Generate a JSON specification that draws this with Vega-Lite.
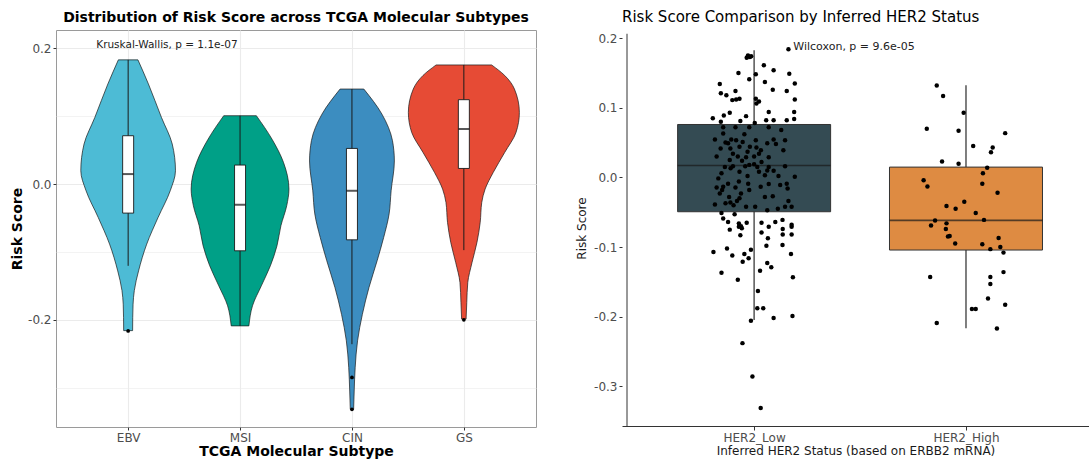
{
  "$schema": "https://vega.github.io/schema/vega-lite/v6.json",
  "background": "white",
  "padding": {"left": 10, "top": 10, "right": 0, "bottom": 0},
  "spacing": 38,
  "resolve": {"scale": {"color": "independent"}},
  "config": {"font": "DejaVu Sans", "view": {"stroke": null}},
  "datasets": {
    "violin": [
      {"subtype": "EBV", "y": 0.183, "w": 0.0875},
      {"subtype": "EBV", "y": 0.1475, "w": 0.181},
      {"subtype": "EBV", "y": 0.098, "w": 0.298},
      {"subtype": "EBV", "y": 0.059, "w": 0.394},
      {"subtype": "EBV", "y": 0.0196, "w": 0.423},
      {"subtype": "EBV", "y": -0.0099, "w": 0.376},
      {"subtype": "EBV", "y": -0.049, "w": 0.268},
      {"subtype": "EBV", "y": -0.0885, "w": 0.166},
      {"subtype": "EBV", "y": -0.128, "w": 0.093},
      {"subtype": "EBV", "y": -0.157, "w": 0.055},
      {"subtype": "EBV", "y": -0.177, "w": 0.044},
      {"subtype": "EBV", "y": -0.197, "w": 0.041},
      {"subtype": "EBV", "y": -0.216, "w": 0.04},
      {"subtype": "MSI", "y": 0.1007, "w": 0.146},
      {"subtype": "MSI", "y": 0.066, "w": 0.286},
      {"subtype": "MSI", "y": 0.032, "w": 0.388},
      {"subtype": "MSI", "y": -0.0074, "w": 0.437},
      {"subtype": "MSI", "y": -0.032, "w": 0.417},
      {"subtype": "MSI", "y": -0.0615, "w": 0.365},
      {"subtype": "MSI", "y": -0.091, "w": 0.33},
      {"subtype": "MSI", "y": -0.1205, "w": 0.271},
      {"subtype": "MSI", "y": -0.15, "w": 0.19},
      {"subtype": "MSI", "y": -0.1795, "w": 0.111},
      {"subtype": "MSI", "y": -0.209, "w": 0.079},
      {"subtype": "CIN", "y": 0.14, "w": 0.106},
      {"subtype": "CIN", "y": 0.103, "w": 0.268},
      {"subtype": "CIN", "y": 0.064, "w": 0.362},
      {"subtype": "CIN", "y": 0.034, "w": 0.379},
      {"subtype": "CIN", "y": -0.0099, "w": 0.35},
      {"subtype": "CIN", "y": -0.044, "w": 0.332},
      {"subtype": "CIN", "y": -0.079, "w": 0.283},
      {"subtype": "CIN", "y": -0.113, "w": 0.225},
      {"subtype": "CIN", "y": -0.1525, "w": 0.152},
      {"subtype": "CIN", "y": -0.192, "w": 0.093},
      {"subtype": "CIN", "y": -0.231, "w": 0.05},
      {"subtype": "CIN", "y": -0.27, "w": 0.029},
      {"subtype": "CIN", "y": -0.305, "w": 0.02},
      {"subtype": "CIN", "y": -0.332, "w": 0.015},
      {"subtype": "GS", "y": 0.1755, "w": 0.248},
      {"subtype": "GS", "y": 0.16, "w": 0.365},
      {"subtype": "GS", "y": 0.14, "w": 0.452},
      {"subtype": "GS", "y": 0.1056, "w": 0.496},
      {"subtype": "GS", "y": 0.076, "w": 0.466},
      {"subtype": "GS", "y": 0.0466, "w": 0.365},
      {"subtype": "GS", "y": 0.017, "w": 0.262},
      {"subtype": "GS", "y": -0.0074, "w": 0.19},
      {"subtype": "GS", "y": -0.027, "w": 0.16},
      {"subtype": "GS", "y": -0.0566, "w": 0.146},
      {"subtype": "GS", "y": -0.086, "w": 0.117},
      {"subtype": "GS", "y": -0.1156, "w": 0.073},
      {"subtype": "GS", "y": -0.145, "w": 0.035},
      {"subtype": "GS", "y": -0.1746, "w": 0.026},
      {"subtype": "GS", "y": -0.199, "w": 0.02}
    ],
    "subtypeBox": [
      {"subtype": "EBV", "q1": -0.0428, "med": 0.0147, "q3": 0.0712, "lo": -0.1205, "hi": 0.183},
      {"subtype": "MSI", "q1": -0.0984, "med": -0.0305, "q3": 0.028, "lo": -0.209, "hi": 0.1007},
      {"subtype": "CIN", "q1": -0.0822, "med": -0.0099, "q3": 0.0525, "lo": -0.236, "hi": 0.14},
      {"subtype": "GS", "q1": 0.023, "med": 0.0811, "q3": 0.1243, "lo": -0.0974, "hi": 0.1755}
    ],
    "subtypeOutliers": [
      {"subtype": "EBV", "score": -0.2165},
      {"subtype": "CIN", "score": -0.285},
      {"subtype": "CIN", "score": -0.332},
      {"subtype": "GS", "score": -0.2}
    ],
    "her2Box": [
      {"status": "HER2_Low", "q1": -0.0493, "med": 0.0172, "q3": 0.076, "lo": -0.2047, "hi": 0.1826},
      {"status": "HER2_High", "q1": -0.1043, "med": -0.0617, "q3": 0.0148, "lo": -0.2167, "hi": 0.1324}
    ],
    "her2Points": [
      {"status": "HER2_Low", "jit": -0.035, "score": 0.172},
      {"status": "HER2_Low", "jit": -0.029, "score": 0.175},
      {"status": "HER2_Low", "jit": -0.02, "score": 0.173},
      {"status": "HER2_Low", "jit": -0.014, "score": 0.174},
      {"status": "HER2_Low", "jit": 0.162, "score": 0.184},
      {"status": "HER2_Low", "jit": 0.046, "score": 0.161},
      {"status": "HER2_Low", "jit": 0.092, "score": 0.154},
      {"status": "HER2_Low", "jit": -0.074, "score": 0.15},
      {"status": "HER2_Low", "jit": 0.008, "score": 0.148},
      {"status": "HER2_Low", "jit": 0.166, "score": 0.149},
      {"status": "HER2_Low", "jit": -0.023, "score": 0.141},
      {"status": "HER2_Low", "jit": 0.051, "score": 0.137},
      {"status": "HER2_Low", "jit": -0.162, "score": 0.134},
      {"status": "HER2_Low", "jit": 0.192, "score": 0.135},
      {"status": "HER2_Low", "jit": 0.088, "score": 0.126},
      {"status": "HER2_Low", "jit": 0.154, "score": 0.124},
      {"status": "HER2_Low", "jit": -0.088, "score": 0.124},
      {"status": "HER2_Low", "jit": -0.157, "score": 0.121},
      {"status": "HER2_Low", "jit": -0.131, "score": 0.118},
      {"status": "HER2_Low", "jit": -0.069, "score": 0.113},
      {"status": "HER2_Low", "jit": -0.103, "score": 0.111},
      {"status": "HER2_Low", "jit": -0.085, "score": 0.112},
      {"status": "HER2_Low", "jit": 0.008, "score": 0.113},
      {"status": "HER2_Low", "jit": 0.192, "score": 0.112},
      {"status": "HER2_Low", "jit": 0.023, "score": 0.109},
      {"status": "HER2_Low", "jit": 0.011, "score": 0.106},
      {"status": "HER2_Low", "jit": 0.189, "score": 0.094},
      {"status": "HER2_Low", "jit": 0.069, "score": 0.094},
      {"status": "HER2_Low", "jit": -0.115, "score": 0.093},
      {"status": "HER2_Low", "jit": -0.143, "score": 0.089},
      {"status": "HER2_Low", "jit": -0.038, "score": 0.088},
      {"status": "HER2_Low", "jit": -0.195, "score": 0.085},
      {"status": "HER2_Low", "jit": -0.157, "score": 0.08},
      {"status": "HER2_Low", "jit": -0.065, "score": 0.081},
      {"status": "HER2_Low", "jit": 0.003, "score": 0.078},
      {"status": "HER2_Low", "jit": 0.057, "score": 0.082},
      {"status": "HER2_Low", "jit": 0.092, "score": 0.082},
      {"status": "HER2_Low", "jit": 0.154, "score": 0.082},
      {"status": "HER2_Low", "jit": 0.189, "score": 0.084},
      {"status": "HER2_Low", "jit": -0.146, "score": 0.072},
      {"status": "HER2_Low", "jit": -0.088, "score": 0.072},
      {"status": "HER2_Low", "jit": -0.023, "score": 0.072},
      {"status": "HER2_Low", "jit": 0.069, "score": 0.072},
      {"status": "HER2_Low", "jit": 0.128, "score": 0.068},
      {"status": "HER2_Low", "jit": -0.146, "score": 0.063},
      {"status": "HER2_Low", "jit": -0.046, "score": 0.062},
      {"status": "HER2_Low", "jit": -0.185, "score": 0.0545},
      {"status": "HER2_Low", "jit": -0.108, "score": 0.0545},
      {"status": "HER2_Low", "jit": -0.085, "score": 0.0535},
      {"status": "HER2_Low", "jit": 0.008, "score": 0.0535},
      {"status": "HER2_Low", "jit": 0.092, "score": 0.0545},
      {"status": "HER2_Low", "jit": 0.146, "score": 0.0535},
      {"status": "HER2_Low", "jit": -0.135, "score": 0.05},
      {"status": "HER2_Low", "jit": -0.123, "score": 0.049},
      {"status": "HER2_Low", "jit": -0.054, "score": 0.051},
      {"status": "HER2_Low", "jit": 0.062, "score": 0.049},
      {"status": "HER2_Low", "jit": 0.103, "score": 0.048},
      {"status": "HER2_Low", "jit": -0.158, "score": 0.0416},
      {"status": "HER2_Low", "jit": -0.112, "score": 0.0416},
      {"status": "HER2_Low", "jit": -0.069, "score": 0.044},
      {"status": "HER2_Low", "jit": -0.02, "score": 0.044},
      {"status": "HER2_Low", "jit": 0.011, "score": 0.043},
      {"status": "HER2_Low", "jit": 0.032, "score": 0.039},
      {"status": "HER2_Low", "jit": -0.1, "score": 0.034},
      {"status": "HER2_Low", "jit": -0.031, "score": 0.037},
      {"status": "HER2_Low", "jit": 0.023, "score": 0.034},
      {"status": "HER2_Low", "jit": 0.138, "score": 0.039},
      {"status": "HER2_Low", "jit": -0.177, "score": 0.03},
      {"status": "HER2_Low", "jit": -0.077, "score": 0.03},
      {"status": "HER2_Low", "jit": -0.038, "score": 0.029},
      {"status": "HER2_Low", "jit": 0.0, "score": 0.03},
      {"status": "HER2_Low", "jit": 0.069, "score": 0.029},
      {"status": "HER2_Low", "jit": -0.115, "score": 0.025},
      {"status": "HER2_Low", "jit": -0.057, "score": 0.024},
      {"status": "HER2_Low", "jit": 0.035, "score": 0.022},
      {"status": "HER2_Low", "jit": -0.138, "score": 0.015},
      {"status": "HER2_Low", "jit": -0.1, "score": 0.016},
      {"status": "HER2_Low", "jit": -0.042, "score": 0.016},
      {"status": "HER2_Low", "jit": -0.023, "score": 0.018},
      {"status": "HER2_Low", "jit": 0.0, "score": 0.019},
      {"status": "HER2_Low", "jit": 0.015, "score": 0.015},
      {"status": "HER2_Low", "jit": 0.069, "score": 0.015},
      {"status": "HER2_Low", "jit": 0.146, "score": 0.016},
      {"status": "HER2_Low", "jit": -0.111, "score": 0.013},
      {"status": "HER2_Low", "jit": 0.062, "score": 0.01},
      {"status": "HER2_Low", "jit": 0.092, "score": 0.0095},
      {"status": "HER2_Low", "jit": -0.069, "score": 0.008},
      {"status": "HER2_Low", "jit": 0.023, "score": 0.008},
      {"status": "HER2_Low", "jit": -0.154, "score": 0.006},
      {"status": "HER2_Low", "jit": 0.192, "score": 0.001},
      {"status": "HER2_Low", "jit": -0.169, "score": -0.0014},
      {"status": "HER2_Low", "jit": -0.031, "score": 0.002},
      {"status": "HER2_Low", "jit": 0.051, "score": 0.003},
      {"status": "HER2_Low", "jit": 0.115, "score": 0.002},
      {"status": "HER2_Low", "jit": -0.123, "score": -0.009},
      {"status": "HER2_Low", "jit": -0.072, "score": -0.006},
      {"status": "HER2_Low", "jit": -0.028, "score": -0.009},
      {"status": "HER2_Low", "jit": 0.069, "score": -0.0096},
      {"status": "HER2_Low", "jit": 0.154, "score": -0.009},
      {"status": "HER2_Low", "jit": -0.146, "score": -0.0135},
      {"status": "HER2_Low", "jit": -0.177, "score": -0.0144},
      {"status": "HER2_Low", "jit": -0.088, "score": -0.0144},
      {"status": "HER2_Low", "jit": 0.031, "score": -0.0135},
      {"status": "HER2_Low", "jit": 0.123, "score": -0.011},
      {"status": "HER2_Low", "jit": -0.151, "score": -0.018},
      {"status": "HER2_Low", "jit": -0.023, "score": -0.018},
      {"status": "HER2_Low", "jit": 0.158, "score": -0.016},
      {"status": "HER2_Low", "jit": -0.162, "score": -0.023},
      {"status": "HER2_Low", "jit": -0.062, "score": -0.023},
      {"status": "HER2_Low", "jit": 0.088, "score": -0.027},
      {"status": "HER2_Low", "jit": -0.118, "score": -0.028},
      {"status": "HER2_Low", "jit": -0.069, "score": -0.03},
      {"status": "HER2_Low", "jit": 0.051, "score": -0.028},
      {"status": "HER2_Low", "jit": -0.135, "score": -0.037},
      {"status": "HER2_Low", "jit": -0.112, "score": -0.036},
      {"status": "HER2_Low", "jit": -0.081, "score": -0.034},
      {"status": "HER2_Low", "jit": 0.162, "score": -0.034},
      {"status": "HER2_Low", "jit": -0.185, "score": -0.039},
      {"status": "HER2_Low", "jit": -0.097, "score": -0.04},
      {"status": "HER2_Low", "jit": -0.038, "score": -0.042},
      {"status": "HER2_Low", "jit": 0.005, "score": -0.042},
      {"status": "HER2_Low", "jit": 0.062, "score": -0.047},
      {"status": "HER2_Low", "jit": 0.112, "score": -0.045},
      {"status": "HER2_Low", "jit": 0.146, "score": -0.042},
      {"status": "HER2_Low", "jit": 0.177, "score": -0.042},
      {"status": "HER2_Low", "jit": -0.154, "score": -0.051},
      {"status": "HER2_Low", "jit": -0.092, "score": -0.053},
      {"status": "HER2_Low", "jit": -0.146, "score": -0.059},
      {"status": "HER2_Low", "jit": -0.123, "score": -0.064},
      {"status": "HER2_Low", "jit": -0.072, "score": -0.066},
      {"status": "HER2_Low", "jit": -0.035, "score": -0.065},
      {"status": "HER2_Low", "jit": 0.035, "score": -0.065},
      {"status": "HER2_Low", "jit": 0.1, "score": -0.064},
      {"status": "HER2_Low", "jit": 0.134, "score": -0.061},
      {"status": "HER2_Low", "jit": 0.177, "score": -0.068},
      {"status": "HER2_Low", "jit": -0.062, "score": -0.07},
      {"status": "HER2_Low", "jit": 0.069, "score": -0.071},
      {"status": "HER2_Low", "jit": -0.115, "score": -0.075},
      {"status": "HER2_Low", "jit": -0.072, "score": -0.071},
      {"status": "HER2_Low", "jit": -0.058, "score": -0.073},
      {"status": "HER2_Low", "jit": -0.065, "score": -0.083},
      {"status": "HER2_Low", "jit": 0.035, "score": -0.079},
      {"status": "HER2_Low", "jit": 0.065, "score": -0.0875},
      {"status": "HER2_Low", "jit": 0.135, "score": -0.074},
      {"status": "HER2_Low", "jit": 0.135, "score": -0.082},
      {"status": "HER2_Low", "jit": 0.177, "score": -0.071},
      {"status": "HER2_Low", "jit": 0.177, "score": -0.082},
      {"status": "HER2_Low", "jit": 0.134, "score": -0.097},
      {"status": "HER2_Low", "jit": 0.058, "score": -0.098},
      {"status": "HER2_Low", "jit": -0.192, "score": -0.107},
      {"status": "HER2_Low", "jit": -0.128, "score": -0.102},
      {"status": "HER2_Low", "jit": -0.103, "score": -0.112},
      {"status": "HER2_Low", "jit": -0.046, "score": -0.11},
      {"status": "HER2_Low", "jit": -0.026, "score": -0.116},
      {"status": "HER2_Low", "jit": -0.015, "score": -0.104},
      {"status": "HER2_Low", "jit": -0.054, "score": -0.121},
      {"status": "HER2_Low", "jit": 0.062, "score": -0.123},
      {"status": "HER2_Low", "jit": 0.081, "score": -0.129},
      {"status": "HER2_Low", "jit": 0.174, "score": -0.11},
      {"status": "HER2_Low", "jit": -0.154, "score": -0.137},
      {"status": "HER2_Low", "jit": 0.028, "score": -0.134},
      {"status": "HER2_Low", "jit": -0.077, "score": -0.147},
      {"status": "HER2_Low", "jit": 0.183, "score": -0.1435},
      {"status": "HER2_Low", "jit": 0.018, "score": -0.163},
      {"status": "HER2_Low", "jit": 0.015, "score": -0.188},
      {"status": "HER2_Low", "jit": 0.043, "score": -0.188},
      {"status": "HER2_Low", "jit": 0.092, "score": -0.202},
      {"status": "HER2_Low", "jit": 0.181, "score": -0.199},
      {"status": "HER2_Low", "jit": -0.015, "score": -0.206},
      {"status": "HER2_Low", "jit": -0.055, "score": -0.238},
      {"status": "HER2_Low", "jit": -0.008, "score": -0.286},
      {"status": "HER2_Low", "jit": 0.031, "score": -0.331},
      {"status": "HER2_High", "jit": -0.138, "score": 0.132},
      {"status": "HER2_High", "jit": -0.108, "score": 0.117},
      {"status": "HER2_High", "jit": -0.011, "score": 0.093},
      {"status": "HER2_High", "jit": -0.185, "score": 0.07},
      {"status": "HER2_High", "jit": -0.035, "score": 0.067},
      {"status": "HER2_High", "jit": 0.185, "score": 0.0636},
      {"status": "HER2_High", "jit": 0.034, "score": 0.045},
      {"status": "HER2_High", "jit": 0.126, "score": 0.043},
      {"status": "HER2_High", "jit": 0.118, "score": 0.036},
      {"status": "HER2_High", "jit": -0.113, "score": 0.023},
      {"status": "HER2_High", "jit": -0.035, "score": 0.0195},
      {"status": "HER2_High", "jit": 0.1, "score": 0.014},
      {"status": "HER2_High", "jit": 0.08, "score": 0.006},
      {"status": "HER2_High", "jit": -0.2, "score": -0.004},
      {"status": "HER2_High", "jit": -0.182, "score": -0.013},
      {"status": "HER2_High", "jit": 0.077, "score": -0.009},
      {"status": "HER2_High", "jit": 0.149, "score": -0.022},
      {"status": "HER2_High", "jit": -0.008, "score": -0.035},
      {"status": "HER2_High", "jit": -0.092, "score": -0.041},
      {"status": "HER2_High", "jit": -0.049, "score": -0.045},
      {"status": "HER2_High", "jit": 0.046, "score": -0.051},
      {"status": "HER2_High", "jit": -0.146, "score": -0.062},
      {"status": "HER2_High", "jit": 0.085, "score": -0.061},
      {"status": "HER2_High", "jit": -0.165, "score": -0.069},
      {"status": "HER2_High", "jit": -0.092, "score": -0.066},
      {"status": "HER2_High", "jit": -0.095, "score": -0.074},
      {"status": "HER2_High", "jit": -0.077, "score": -0.084},
      {"status": "HER2_High", "jit": -0.085, "score": -0.085},
      {"status": "HER2_High", "jit": -0.051, "score": -0.095},
      {"status": "HER2_High", "jit": 0.077, "score": -0.096},
      {"status": "HER2_High", "jit": 0.115, "score": -0.103},
      {"status": "HER2_High", "jit": 0.154, "score": -0.087},
      {"status": "HER2_High", "jit": 0.162, "score": -0.1},
      {"status": "HER2_High", "jit": 0.177, "score": -0.108},
      {"status": "HER2_High", "jit": -0.169, "score": -0.143},
      {"status": "HER2_High", "jit": 0.115, "score": -0.143},
      {"status": "HER2_High", "jit": 0.177, "score": -0.136},
      {"status": "HER2_High", "jit": 0.115, "score": -0.153},
      {"status": "HER2_High", "jit": 0.104, "score": -0.174},
      {"status": "HER2_High", "jit": 0.185, "score": -0.183},
      {"status": "HER2_High", "jit": 0.028, "score": -0.189},
      {"status": "HER2_High", "jit": 0.046, "score": -0.189},
      {"status": "HER2_High", "jit": -0.138, "score": -0.209},
      {"status": "HER2_High", "jit": 0.146, "score": -0.217}
    ]
  },
  "hconcat": [
    {
      "width": 480,
      "height": 397,
      "title": {"text": "Distribution of Risk Score across TCGA Molecular Subtypes", "fontSize": 14, "fontWeight": "bold", "anchor": "middle", "frame": "group", "offset": 5, "color": "black"},
      "view": {"stroke": "#9a9a9a", "strokeWidth": 1},
      "encoding": {
        "x": {"type": "quantitative", "scale": {"domain": [0.4, 4.6], "nice": false, "zero": false},
          "axis": {"values": [1, 2, 3, 4], "labelExpr": "['EBV','MSI','CIN','GS'][datum.value - 1]", "title": "TCGA Molecular Subtype", "titleFontSize": 14, "titleFontWeight": "bold", "titleColor": "black", "titlePadding": 1, "labelFontSize": 12, "labelColor": "#4D4D4D", "labelPadding": 2, "tickColor": "#333333", "tickSize": 3, "domain": false, "grid": true, "gridColor": "#EBEBEB", "gridWidth": 1.1}}
      },
      "layer": [
        {
          "data": {"name": "violin"},
          "transform": [
            {"calculate": "indexof(['EBV','MSI','CIN','GS'], datum.subtype) + 1", "as": "pos"},
            {"calculate": "datum.pos - datum.w", "as": "xl"},
            {"calculate": "datum.pos + datum.w", "as": "xr"}
          ],
          "mark": {"type": "area", "orient": "horizontal", "interpolate": "monotone", "stroke": "#1a1a1a", "strokeWidth": 0.7},
          "encoding": {
            "x": {"field": "xl", "type": "quantitative"},
            "x2": {"field": "xr"},
            "y": {"field": "y", "type": "quantitative", "scale": {"domain": [-0.358, 0.227], "nice": false, "zero": false},
              "axis": {"values": [-0.3, -0.2, -0.1, 0, 0.1, 0.2], "labelExpr": "round(abs(datum.value*10)) % 2 == 1 ? '' : (datum.value < -0.001 ? '-' + format(-datum.value, '.1f') : format(abs(datum.value), '.1f'))", "title": "Risk Score", "titleFontSize": 14, "titleFontWeight": "bold", "titleColor": "black", "titlePadding": 3, "labelFontSize": 12, "labelColor": "#4D4D4D", "labelPadding": 2, "tickColor": "#333333", "tickSize": 3, "tickOpacity": {"condition": {"test": "round(abs(datum.value*10)) % 2 == 1", "value": 0}, "value": 1}, "domain": false, "grid": true, "gridColor": "#EBEBEB", "gridWidth": {"condition": {"test": "round(abs(datum.value*10)) % 2 == 1", "value": 0.6}, "value": 1.1}}},
            "color": {"field": "subtype", "type": "nominal", "scale": {"domain": ["EBV", "MSI", "CIN", "GS"], "range": ["#4DBBD5", "#00A087", "#3C8DC0", "#E64B35"]}, "legend": null},
            "detail": {"field": "subtype"}
          }
        },
        {
          "data": {"name": "subtypeBox"},
          "transform": [{"calculate": "indexof(['EBV','MSI','CIN','GS'], datum.subtype) + 1", "as": "pos"}],
          "mark": {"type": "rule", "color": "#1a1a1a", "strokeWidth": 1},
          "encoding": {"x": {"field": "pos", "type": "quantitative"}, "y": {"field": "lo", "type": "quantitative"}, "y2": {"field": "hi"}}
        },
        {
          "data": {"name": "subtypeBox"},
          "transform": [{"calculate": "indexof(['EBV','MSI','CIN','GS'], datum.subtype) + 1", "as": "pos"}],
          "mark": {"type": "bar", "size": 11, "fill": "white", "stroke": "#1a1a1a", "strokeWidth": 0.9},
          "encoding": {"x": {"field": "pos", "type": "quantitative"}, "y": {"field": "q1", "type": "quantitative"}, "y2": {"field": "q3"}}
        },
        {
          "data": {"name": "subtypeBox"},
          "transform": [{"calculate": "indexof(['EBV','MSI','CIN','GS'], datum.subtype) + 1", "as": "pos"}],
          "mark": {"type": "tick", "orient": "horizontal", "size": 11, "thickness": 2, "color": "#111111"},
          "encoding": {"x": {"field": "pos", "type": "quantitative"}, "y": {"field": "med", "type": "quantitative"}}
        },
        {
          "data": {"name": "subtypeOutliers"},
          "transform": [{"calculate": "indexof(['EBV','MSI','CIN','GS'], datum.subtype) + 1", "as": "pos"}],
          "mark": {"type": "circle", "size": 14, "color": "black", "opacity": 1},
          "encoding": {"x": {"field": "pos", "type": "quantitative"}, "y": {"field": "score", "type": "quantitative"}}
        },
        {
          "data": {"values": [{}]},
          "mark": {"type": "text", "align": "left", "baseline": "middle", "fontSize": 10.5, "color": "#222222"},
          "encoding": {"x": {"datum": 0.715, "type": "quantitative"}, "y": {"datum": 0.205, "type": "quantitative"}, "text": {"value": "Kruskal-Wallis, p = 1.1e-07"}}
        }
      ]
    },
    {
      "width": 467,
      "height": 396,
      "title": {"text": "Risk Score Comparison by Inferred HER2 Status", "fontSize": 15, "fontWeight": "normal", "anchor": "start", "frame": "group", "offset": 5, "color": "black"},
      "encoding": {
        "x": {"type": "quantitative", "scale": {"domain": [0.4, 2.557], "nice": false, "zero": false},
          "axis": {"values": [1, 2], "labelExpr": "datum.value == 1 ? 'HER2_Low' : 'HER2_High'", "title": "Inferred HER2 Status (based on ERBB2 mRNA)", "titleFontSize": 12, "titleFontWeight": "normal", "titleColor": "#1a1a1a", "titlePadding": 2, "labelFontSize": 12, "labelColor": "#4D4D4D", "labelPadding": 2, "tickColor": "#333333", "tickSize": 4, "domain": true, "domainColor": "#333333", "domainWidth": 1, "grid": false}}
      },
      "layer": [
        {
          "data": {"values": [{}]},
          "mark": {"type": "rule", "color": "#333333", "strokeWidth": 1},
          "encoding": {"x": {"datum": 0.4, "type": "quantitative"}, "y": {"datum": -0.357, "type": "quantitative"}, "y2": {"datum": 0.2063}}
        },
        {
          "data": {"name": "her2Box"},
          "transform": [{"calculate": "datum.status == 'HER2_Low' ? 1 : 2", "as": "pos"}],
          "mark": {"type": "rule", "color": "#555555", "strokeWidth": 1.5},
          "encoding": {
            "x": {"field": "pos", "type": "quantitative"},
            "y": {"field": "lo", "type": "quantitative", "scale": {"domain": [-0.357, 0.2117], "nice": false, "zero": false},
              "axis": {"values": [-0.3, -0.2, -0.1, 0, 0.1, 0.2], "labelExpr": "datum.value < -0.001 ? '-' + format(-datum.value, '.1f') : format(abs(datum.value), '.1f')", "title": "Risk Score", "titleFontSize": 12, "titleFontWeight": "normal", "titleColor": "#1a1a1a", "titlePadding": 5, "labelFontSize": 12, "labelColor": "#4D4D4D", "labelPadding": 2, "tickColor": "#333333", "tickSize": 3, "domain": false, "grid": false}},
            "y2": {"field": "hi"}
          }
        },
        {
          "data": {"name": "her2Box"},
          "transform": [{"calculate": "datum.status == 'HER2_Low' ? 1 : 2", "as": "pos"}],
          "mark": {"type": "bar", "size": 153, "stroke": "#333333", "strokeWidth": 1},
          "encoding": {
            "x": {"field": "pos", "type": "quantitative"},
            "y": {"field": "q1", "type": "quantitative"},
            "y2": {"field": "q3"},
            "color": {"field": "status", "type": "nominal", "scale": {"domain": ["HER2_Low", "HER2_High"], "range": ["#344B53", "#DE8B42"]}, "legend": null}
          }
        },
        {
          "data": {"name": "her2Box"},
          "transform": [{"calculate": "datum.status == 'HER2_Low' ? 1 : 2", "as": "pos"}],
          "mark": {"type": "tick", "orient": "horizontal", "size": 153, "thickness": 1.6, "color": "#1a1a1a"},
          "encoding": {"x": {"field": "pos", "type": "quantitative"}, "y": {"field": "med", "type": "quantitative"}}
        },
        {
          "data": {"name": "her2Points"},
          "transform": [
            {"calculate": "datum.status == 'HER2_Low' ? 1 : 2", "as": "pos"},
            {"calculate": "datum.pos + datum.jit", "as": "px"}
          ],
          "mark": {"type": "circle", "size": 20, "color": "black", "opacity": 1},
          "encoding": {"x": {"field": "px", "type": "quantitative"}, "y": {"field": "score", "type": "quantitative"}}
        },
        {
          "data": {"values": [{}]},
          "mark": {"type": "text", "align": "left", "baseline": "middle", "fontSize": 11, "color": "#222222"},
          "encoding": {"x": {"datum": 1.185, "type": "quantitative"}, "y": {"datum": 0.187, "type": "quantitative"}, "text": {"value": "Wilcoxon, p = 9.6e-05"}}
        }
      ]
    }
  ]
}
